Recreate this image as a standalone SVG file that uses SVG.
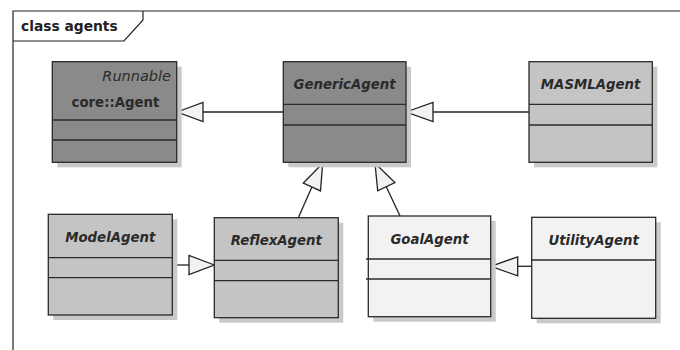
<svg xmlns="http://www.w3.org/2000/svg" width="680" height="350" viewBox="0 0 680 350">
<style>
.frame{fill:none;stroke:#222;stroke-width:1.2}
.box{stroke:#2a2a2a;stroke-width:1.3}
.dark{fill:#8a8a8a}
.mid{fill:#c4c4c4}
.light{fill:#f2f2f2}
.shadow{fill:#c9c9c9}
.div{stroke:#2a2a2a;stroke-width:1.3}
.t{font-family:"DejaVu Sans",Verdana,sans-serif;font-size:13.3px;font-weight:bold;font-style:italic;fill:#2a2a2a;text-anchor:middle}
.st{font-family:"DejaVu Sans",Verdana,sans-serif;font-size:14.5px;font-style:italic;fill:#2a2a2a;text-anchor:end}
.n{font-family:"DejaVu Sans",Verdana,sans-serif;font-size:13.3px;font-weight:bold;fill:#2a2a2a;text-anchor:middle}
.lbl{font-family:"DejaVu Sans",Verdana,sans-serif;font-size:13.8px;font-weight:bold;fill:#222}
.line{stroke:#222;stroke-width:1.3;fill:none}
.head{fill:#f2f2f2;stroke:#222;stroke-width:1.3;stroke-linejoin:miter}
</style>
<rect width="680" height="350" fill="#fff"/>
<g id="frame">
<path class="frame" d="M13,350 V11 H680"/>
<path class="frame" d="M13,41 H124 L143,20 V11"/>
<text class="lbl" x="21" y="31">class agents</text>
</g>
<g id="connectors">
<line class="line" x1="283" y1="112" x2="203" y2="112"/>
<polygon class="head" points="177,112 203,102.5 203,121.5"/>
<line class="line" x1="529" y1="112" x2="433" y2="112"/>
<polygon class="head" points="406,112 433,102.5 433,121.5"/>
<line class="line" x1="298.3" y1="217.7" x2="311.9" y2="187"/>
<polygon class="head" points="322.7,163.3 320.5,190.9 303.3,183"/>
<line class="line" x1="400" y1="216" x2="386.3" y2="186.7"/>
<polygon class="head" points="375,163.3 394.9,182.6 377.7,190.8"/>
<line class="line" x1="172.3" y1="265" x2="189" y2="265"/>
<polygon class="head" points="214.3,265 189,255.5 189,274.5"/>
<line class="line" x1="531.7" y1="266.3" x2="517.7" y2="266.3"/>
<polygon class="head" points="490.7,266.3 517.7,256.8 517.7,275.8"/>
</g>
<g id="coreAgent">
<rect class="shadow" x="57.3" y="66.7" width="124.4" height="100.6"/>
<rect class="box dark" x="52.3" y="61.7" width="124.4" height="100.6"/>
<line class="div" x1="52.3" y1="120" x2="176.7" y2="120"/>
<line class="div" x1="52.3" y1="140" x2="176.7" y2="140"/>
<text class="st" x="171" y="81">Runnable</text>
<text class="n" x="115.5" y="106.8">core::Agent</text>
</g>
<g id="GenericAgent">
<rect class="shadow" x="288.3" y="66.7" width="122.7" height="100.6"/>
<rect class="box dark" x="283.3" y="61.7" width="122.7" height="100.6"/>
<line class="div" x1="283.3" y1="104.3" x2="406" y2="104.3"/>
<line class="div" x1="283.3" y1="125" x2="406" y2="125"/>
<text class="t" x="344.6" y="89">GenericAgent</text>
</g>
<g id="MASMLAgent">
<rect class="shadow" x="534" y="66.7" width="123.3" height="100.6"/>
<rect class="box mid" x="529" y="61.7" width="123.3" height="100.6"/>
<line class="div" x1="529" y1="104.3" x2="652.3" y2="104.3"/>
<line class="div" x1="529" y1="125" x2="652.3" y2="125"/>
<text class="t" x="590.6" y="89">MASMLAgent</text>
</g>
<g id="ModelAgent">
<rect class="shadow" x="53.3" y="219.3" width="124" height="100.7"/>
<rect class="box mid" x="48.3" y="214.3" width="124" height="100.7"/>
<line class="div" x1="48.3" y1="257.7" x2="172.3" y2="257.7"/>
<line class="div" x1="48.3" y1="277.7" x2="172.3" y2="277.7"/>
<text class="t" x="110.3" y="242">ModelAgent</text>
</g>
<g id="ReflexAgent">
<rect class="shadow" x="219.3" y="222.7" width="124" height="100"/>
<rect class="box mid" x="214.3" y="217.7" width="124" height="100"/>
<line class="div" x1="214.3" y1="260.3" x2="338.3" y2="260.3"/>
<line class="div" x1="214.3" y1="280.7" x2="338.3" y2="280.7"/>
<text class="t" x="276.3" y="245.4">ReflexAgent</text>
</g>
<g id="GoalAgent">
<rect class="shadow" x="373.3" y="221" width="122.4" height="100.7"/>
<rect class="box light" x="368.3" y="216" width="122.4" height="100.7"/>
<line class="div" x1="366" y1="259" x2="490.7" y2="259"/>
<line class="div" x1="366" y1="279" x2="490.7" y2="279"/>
<text class="t" x="429.5" y="244">GoalAgent</text>
</g>
<g id="UtilityAgent">
<rect class="shadow" x="536.7" y="222.3" width="124" height="101"/>
<rect class="box light" x="531.7" y="217.3" width="124" height="101"/>
<line class="div" x1="531.7" y1="260" x2="655.7" y2="260"/>
<text class="t" x="593.7" y="245.4">UtilityAgent</text>
</g>
</svg>
